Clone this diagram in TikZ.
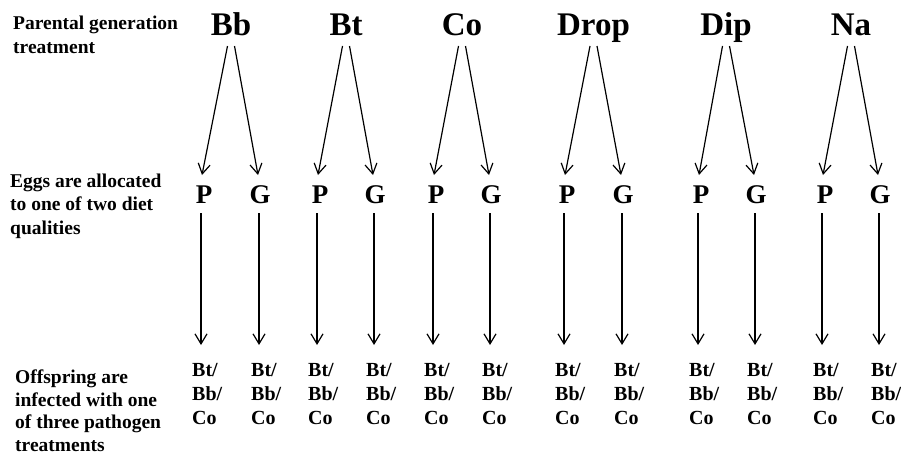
\documentclass[tikz,border=0pt]{standalone}
\usepackage{fontspec}
\setmainfont{Liberation Serif}
\usetikzlibrary{arrows.meta}
\begin{document}
\begin{tikzpicture}[x=1pt,y=-1pt,
  toplab/.style={font=\fontsize{33}{36}\selectfont\bfseries, inner sep=0pt, anchor=base},
  diet/.style={font=\fontsize{27}{28}\selectfont\bfseries, inner sep=0pt, anchor=base},
  patho/.style={font=\fontsize{20}{24}\selectfont\bfseries, inner sep=0pt, anchor=north west, align=left},
  sidelab/.style={inner sep=0pt, anchor=north west, align=left},
  conn/.style={-{Straight Barb[length=10pt,width=12pt]}, line width=1.2pt}]
\useasboundingbox (0,0) rectangle (901,455);
\node[sidelab, font=\fontsize{19.5}{24}\selectfont\bfseries] (t1) at (13,16) {Parental generation\\treatment};
\node[sidelab, font=\fontsize{19.5}{23.3}\selectfont\bfseries] (t2) at (10,173.8) {Eggs are allocated\\to one of two diet\\qualities};
\node[sidelab, font=\fontsize{19.5}{22.6}\selectfont\bfseries] (t3) at (15,369.5) {Offspring are\\infected with one\\of three pathogen\\treatments};
\foreach \n/\lab/\cx/\px/\gx in {1/Bb/231/201/259, 2/Bt/346/317/374, 3/Co/462/433/490, 4/Drop/593.5/564/622, 5/Dip/726/698/755, 6/Na/851/822/879}{
  \node[toplab] (L\n) at (\cx,35) {\lab};
  \coordinate (La\n) at (\cx-3.5,46);
  \coordinate (Lb\n) at (\cx+3.5,46);
  \coordinate (Pt\n) at (\px+1,175);
  \coordinate (Gt\n) at (\gx-1,175);
  \node[diet] (P\n) at (\px+3,203) {P};
  \node[diet] (G\n) at (\gx+1,203) {G};
  \coordinate (Ps\n) at (\px,213);
  \coordinate (Gs\n) at (\gx,213);
  \coordinate (Pe\n) at (\px,345);
  \coordinate (Ge\n) at (\gx,345);
  \node[patho] (BP\n) at (\px-9,363) {Bt/\\Bb/\\Co};
  \node[patho] (BG\n) at (\gx-8,363) {Bt/\\Bb/\\Co};
  \draw[conn] (La\n) -- (Pt\n);
  \draw[conn] (Lb\n) -- (Gt\n);
  \draw[conn] (Ps\n) -- (Pe\n);
  \draw[conn] (Gs\n) -- (Ge\n);
}
\end{tikzpicture}
\end{document}
